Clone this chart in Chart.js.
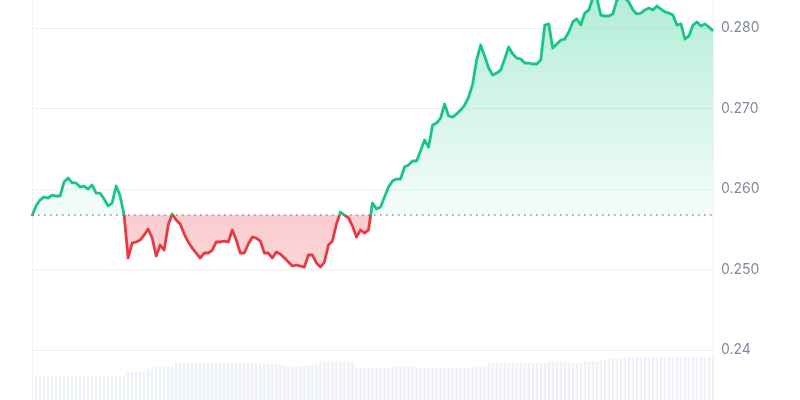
<!DOCTYPE html>
<html>
<head>
<meta charset="utf-8">
<script src="https://cdn.jsdelivr.net/npm/chart.js@4.4.1/dist/chart.umd.min.js"></script>
<style>
  body { margin: 0; background: #fff; }
  #wrap { width: 800px; height: 400px; }
</style>
</head>
<body>
<div id="wrap"><canvas id="Grafico"></canvas></div>
<script>
// precio (24h)
const prices = [
  0.25665, 0.25789, 0.25863, 0.25901, 0.25888, 0.25925, 0.25913, 0.25913, 0.26087, 0.26137,
  0.26075, 0.26075, 0.26025, 0.26037, 0.26000, 0.26050, 0.25950, 0.25950, 0.25876, 0.25789,
  0.25826, 0.26037, 0.25913, 0.25677, 0.25143, 0.25329, 0.25342, 0.25366, 0.25429, 0.25503,
  0.25391, 0.25168, 0.25304, 0.25242, 0.25553, 0.25689, 0.25615, 0.25565, 0.25441, 0.25342,
  0.25267, 0.25205, 0.25143, 0.25205, 0.25205, 0.25242, 0.25342, 0.25342, 0.25354, 0.25342,
  0.25491, 0.25366, 0.25205, 0.25205, 0.25317, 0.25404, 0.25391, 0.25354, 0.25205, 0.25205,
  0.25143, 0.25217, 0.25193, 0.25143, 0.25093, 0.25043, 0.25056, 0.25043, 0.25031, 0.25180,
  0.25180, 0.25081, 0.25031, 0.25093, 0.25304, 0.25354, 0.25565, 0.25714, 0.25677, 0.25640,
  0.25540, 0.25404, 0.25491, 0.25453, 0.25491, 0.25826, 0.25752, 0.25776, 0.25901, 0.26025,
  0.26099, 0.26124, 0.26124, 0.26273, 0.26298, 0.26348, 0.26348, 0.26472, 0.26609, 0.26522,
  0.26795, 0.26820, 0.26882, 0.27056, 0.26907, 0.26894, 0.26932, 0.26981, 0.27043, 0.27143,
  0.27304, 0.27602, 0.27789, 0.27652, 0.27503, 0.27416, 0.27441, 0.27478, 0.27615, 0.27764,
  0.27677, 0.27627, 0.27615, 0.27565, 0.27565, 0.27553, 0.27553, 0.27602, 0.28037, 0.28050,
  0.27752, 0.27801, 0.27851, 0.27863, 0.27950, 0.28075, 0.28112, 0.28037, 0.28186, 0.28224,
  0.28373, 0.28373, 0.28161, 0.28149, 0.28149, 0.28174, 0.28348, 0.28373, 0.28373, 0.28323,
  0.28224, 0.28174, 0.28186, 0.28224, 0.28248, 0.28224, 0.28273, 0.28236, 0.28199, 0.28186,
  0.28161, 0.28037, 0.28050, 0.27863, 0.27901, 0.28037, 0.28075, 0.28025, 0.28050, 0.28012,
  0.27963
];

// volumen (barras grises del fondo)
const volumes = [
  150, 150, 150, 150, 150, 150, 150, 150, 150, 150, 150, 150, 150, 150, 150, 150, 150, 150, 150, 150,
  150, 150, 150, 150, 175, 175, 175, 175, 175, 194, 194, 212, 212, 212, 212, 212, 231, 231, 231, 231,
  231, 231, 231, 231, 231, 231, 231, 231, 231, 231, 231, 231, 231, 231, 231, 231, 231, 225, 225, 225,
  225, 225, 225, 212, 212, 212, 212, 206, 206, 219, 219, 219, 237, 237, 237, 237, 237, 237, 237, 237,
  237, 200, 200, 200, 200, 200, 200, 200, 200, 206, 206, 206, 206, 206, 206, 206, 206, 200, 200, 200,
  200, 200, 200, 200, 200, 200, 200, 200, 200, 200, 200, 212, 212, 212, 231, 231, 231, 231, 231, 231,
  231, 231, 231, 231, 231, 231, 231, 231, 231, 237, 237, 237, 237, 237, 237, 231, 231, 231, 244, 244,
  244, 244, 244, 256, 256, 256, 256, 256, 269, 269, 269, 269, 269, 269, 269, 269, 269, 269, 269, 269,
  269, 269, 269, 269, 269, 269, 269, 269, 269, 269, 275
];

const openPrice = 0.25677;
const tickValues = [0.24, 0.25, 0.26, 0.27, 0.28];
const tickLabels = ['0.24', '0.250', '0.260', '0.270', '0.280'];

const labels = prices.map((p, i) => i);
const baseline = prices.map(() => openPrice);

const green = '#16c784';
const red = '#ea3943';

function lineGradient(context) {
  const chart = context.chart;
  const area = chart.chartArea;
  if (!area) return green;
  const yb = chart.scales.y.getPixelForValue(openPrice);
  const stop = Math.min(1, Math.max(0, (yb - area.top) / (area.bottom - area.top)));
  const g = chart.ctx.createLinearGradient(0, area.top, 0, area.bottom);
  g.addColorStop(0, green);
  g.addColorStop(stop, green);
  g.addColorStop(stop, red);
  g.addColorStop(1, red);
  return g;
}

function fillGradient(context) {
  const chart = context.chart;
  const area = chart.chartArea;
  if (!area) return 'rgba(22,199,132,0.1)';
  const yb = chart.scales.y.getPixelForValue(openPrice);
  const stop = Math.min(1, Math.max(0, (yb - area.top) / (area.bottom - area.top)));
  const g = chart.ctx.createLinearGradient(0, area.top, 0, area.bottom);
  g.addColorStop(0, 'rgba(22,199,132,0.32)');
  g.addColorStop(stop, 'rgba(22,199,132,0.04)');
  g.addColorStop(stop, 'rgba(234,57,67,0.26)');
  g.addColorStop(1, 'rgba(234,57,67,0.08)');
  return g;
}

// quita el relleno que el eje agrega arriba y abajo
function noPad(scale) {
  scale.paddingTop = 0;
  scale.paddingBottom = 0;
}

const config = {
  data: {
    labels: labels,
    datasets: [
      {
        type: 'line',
        data: prices,
        yAxisID: 'y',
        borderColor: lineGradient,
        backgroundColor: fillGradient,
        borderWidth: 2.8,
        borderJoinStyle: 'round',
        pointRadius: 0,
        tension: 0,
        fill: { target: { value: openPrice } },
        order: 0
      },
      {
        type: 'line',
        data: baseline,
        yAxisID: 'y',
        borderColor: '#8a8a8a',
        borderWidth: 1.5,
        borderDash: [1.5, 4.5],
        pointRadius: 0,
        fill: false,
        order: -1
      },
      {
        type: 'bar',
        data: volumes,
        yAxisID: 'yVol',
        backgroundColor: '#eef1f6',
        barPercentage: 1,
        categoryPercentage: 0.6,
        order: 2
      }
    ]
  },
  options: {
    responsive: true,
    maintainAspectRatio: false,
    animation: false,
    layout: { padding: { left: 32, top: 0, bottom: 0, right: 0 } },
    plugins: { legend: { display: false }, tooltip: { enabled: false } },
    scales: {
      x: { display: false, offset: false },
      y: {
        position: 'right',
        min: 0.23379,
        max: 0.28348,
        afterBuildTicks: scale => { scale.ticks = tickValues.map(v => ({ value: v })); },
        afterFit: scale => { scale.width = 87; noPad(scale); },
        grid: { color: '#eff1f4', drawTicks: false },
        border: { display: true, color: '#eff1f4' },
        ticks: {
          padding: 8,
          color: '#808a9d',
          font: { family: 'Inter', size: 14 },
          callback: v => tickLabels[tickValues.indexOf(v)]
        }
      },
      yLeft: {
        position: 'left',
        min: 0,
        max: 1,
        afterFit: scale => { scale.width = 0; noPad(scale); },
        grid: { display: false, drawTicks: false },
        border: { display: true, color: '#eff1f4' },
        ticks: { display: false }
      },
      yVol: { display: false, min: 0, max: 2500 }
    }
  }
};

const myChart = new Chart(document.getElementById('Grafico'), config);
</script>
</body>
</html>
